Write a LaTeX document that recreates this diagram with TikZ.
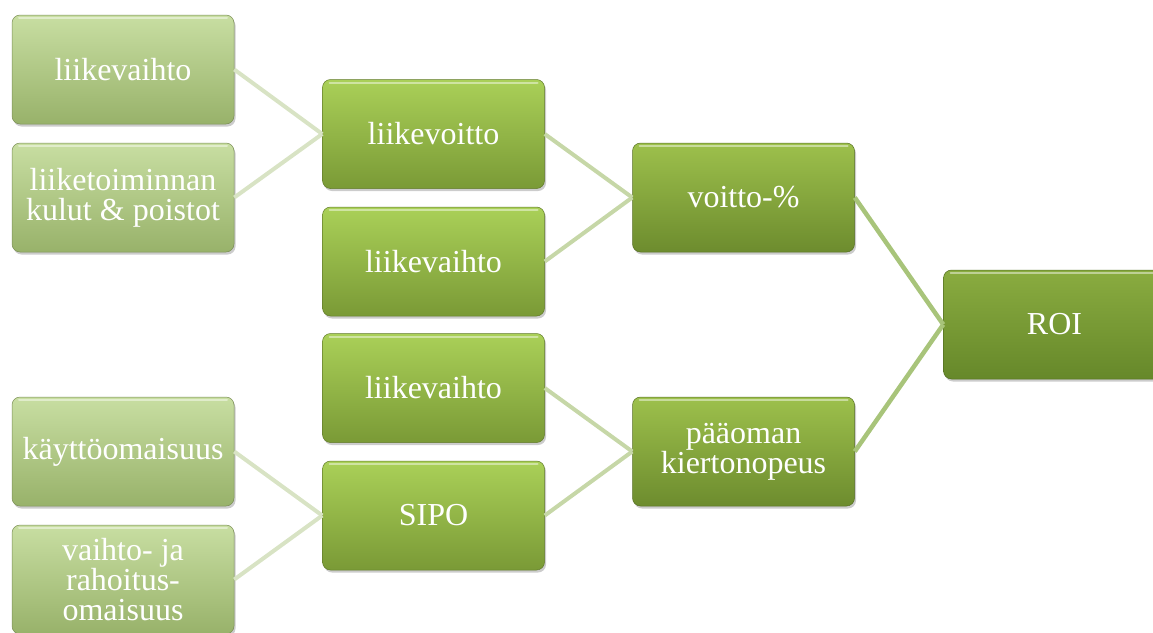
\documentclass[tikz,border=0pt]{standalone}
\usepackage{fontspec}
\setmainfont{Liberation Serif}
\newfontfamily\tnrfont{Liberation Serif}
\usetikzlibrary{shadows}
\definecolor{lTop}{HTML}{C8DEA2}
\definecolor{lBot}{HTML}{98B26A}
\definecolor{mTop}{HTML}{AAD058}
\definecolor{mBot}{HTML}{7A9A36}
\definecolor{rTop}{HTML}{9DC04C}
\definecolor{rBot}{HTML}{6D8C2E}
\definecolor{oTop}{HTML}{8AAC40}
\definecolor{oBot}{HTML}{66882A}
\definecolor{cL}{HTML}{D8E3C4}
\definecolor{cM}{HTML}{C6D7A7}
\definecolor{cR}{HTML}{A8C47A}
\tikzset{
  x=1pt, y=-1pt,
  box/.style={rounded corners=8pt, minimum width=222pt, minimum height=109pt,
    inner sep=2pt, align=center, text=white,
    font=\tnrfont\fontsize{32}{30}\selectfont,
    drop shadow={opacity=0.4, shadow xshift=1.5pt, shadow yshift=-2.5pt},
    path picture={
      \draw[white, opacity=0.45, line width=2pt, line cap=round]
        ([xshift=7pt,yshift=-3pt]path picture bounding box.north west) --
        ([xshift=-7pt,yshift=-3pt]path picture bounding box.north east);
    }},
  boxL/.style={box, top color=lTop, bottom color=lBot, draw=lBot!80!black, line width=0.5pt},
  boxM/.style={box, top color=mTop, bottom color=mBot, draw=mBot!80!black, line width=0.5pt},
  boxR/.style={box, top color=rTop, bottom color=rBot, draw=rBot!80!black, line width=0.5pt},
  boxO/.style={box, top color=oTop, bottom color=oBot, draw=oBot!80!black, line width=0.5pt},
  linkL/.style={draw=cL, line width=4pt},
  linkM/.style={draw=cM, line width=4pt},
  linkR/.style={draw=cR, line width=4.5pt},
}
\begin{document}
\begin{tikzpicture}
\useasboundingbox (0,0) rectangle (1153,632);
\clip (0,0) rectangle (1153,632);
\node[boxL] (a1) at (123,69.5) {liikevaihto};
\node[boxL] (a2) at (123,197.5) {liiketoiminnan\\kulut \& poistot};
\node[boxL] (a3) at (123,451.5) {käyttöomaisuus};
\node[boxL] (a4) at (123,579.5) {vaihto- ja\\rahoitus-\\omaisuus};
\node[boxM] (b1) at (433.5,134) {liikevoitto};
\node[boxM] (b2) at (433.5,261.5) {liikevaihto};
\node[boxM] (b3) at (433.5,388) {liikevaihto};
\node[boxM] (b4) at (433.5,515.5) {SIPO};
\node[boxR] (c1) at (743.5,197.5) {voitto-\%};
\node[boxR] (c2) at (743.5,451.5) {pääoman\\kiertonopeus};
\node[boxO] (d1) at (1054.5,324.5) {ROI};
\draw[linkL] (a1.east) -- (b1.west);
\draw[linkL] (a2.east) -- (b1.west);
\draw[linkL] (a3.east) -- (b4.west);
\draw[linkL] (a4.east) -- (b4.west);
\draw[linkM] (b1.east) -- (c1.west);
\draw[linkM] (b2.east) -- (c1.west);
\draw[linkM] (b3.east) -- (c2.west);
\draw[linkM] (b4.east) -- (c2.west);
\draw[linkR] (c1.east) -- (d1.west);
\draw[linkR] (c2.east) -- (d1.west);
\end{tikzpicture}
\end{document}
